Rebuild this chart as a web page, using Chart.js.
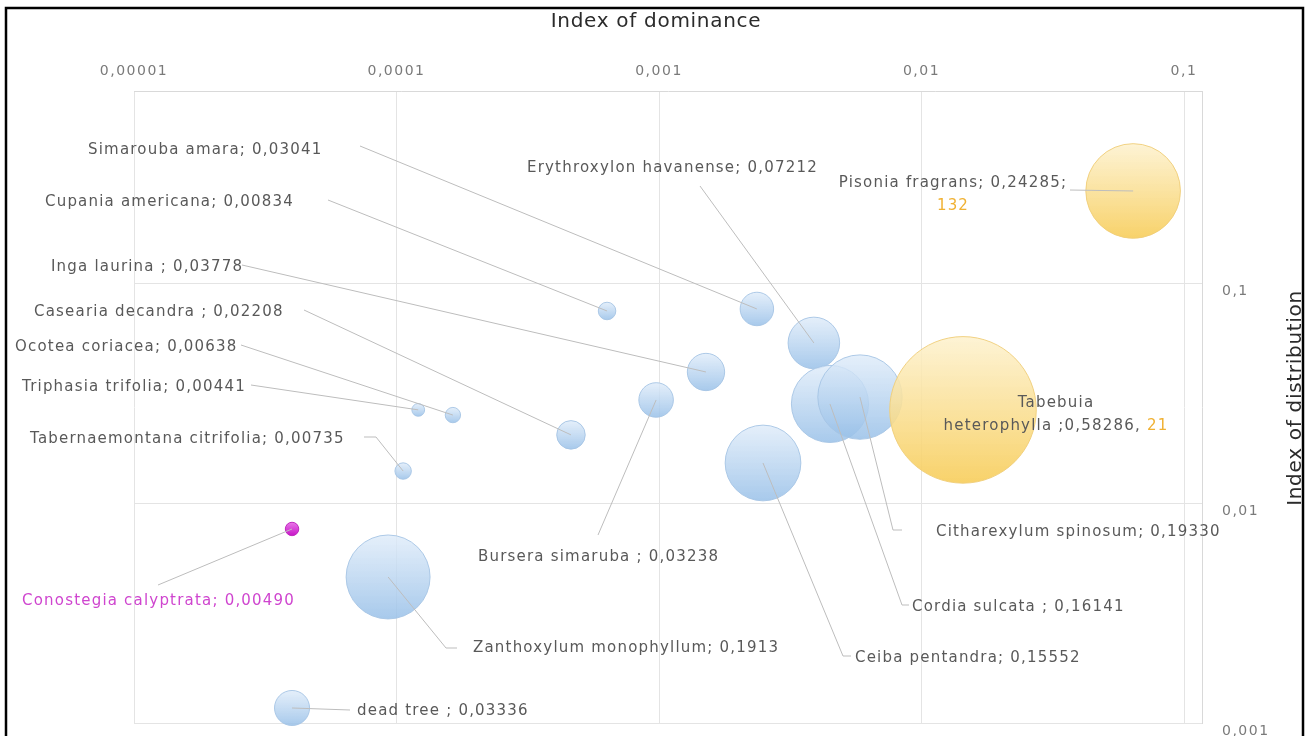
<!DOCTYPE html>
<html>
<head>
<meta charset="utf-8">
<title>Index of dominance / Index of distribution</title>
<script src="https://cdn.jsdelivr.net/npm/chart.js@4.4.1/dist/chart.umd.min.js"></script>
<style>
  html, body { margin: 0; padding: 0; background: #fff; }
  canvas { display: block; }
</style>
</head>
<body>
<canvas id="chart" width="1309" height="736"></canvas>
<script>
// species, index of dominance (x), index of distribution (y), importance value (bubble size)
const species = [
    'Simarouba amara', 'Cupania americana', 'Inga laurina', 'Casearia decandra',
    'Ocotea coriacea', 'Triphasia trifolia', 'Tabernaemontana citrifolia', 'Conostegia calyptrata',
    'Zanthoxylum monophyllum', 'dead tree', 'Bursera simaruba', 'Erythroxylon havanense',
    'Ceiba pentandra', 'Cordia sulcata', 'Citharexylum spinosum', 'Tabebuia heterophylla',
    'Pisonia fragrans'
];
const dominance = [
    0.00236, 0.000634, 0.00151, 0.000462,
    0.000164, 0.000121, 0.000106, 0.00004,
    0.0000929, 0.00004, 0.000975, 0.00389,
    0.00249, 0.00448, 0.00583, 0.01439,
    0.064
];
const distribution = [
    0.0762, 0.0746, 0.0394, 0.0204,
    0.0251, 0.0265, 0.01397, 0.00762,
    0.00461, 0.00117, 0.0294, 0.0534,
    0.0152, 0.0282, 0.0303, 0.0265,
    0.262
];
const importance = [
    '0,03041', '0,00834', '0,03778', '0,02208',
    '0,00638', '0,00441', '0,00735', '0,00490',
    '0,1913', '0,03336', '0,03238', '0,07212',
    '0,15552', '0,16141', '0,19330', '0,58286',
    '0,24285'
];
const counts = [
    null, null, null, null, null, null, null, null,
    null, null, null, null, null, null, null, '21',
    '132'
];
const dominantSpecies = ['Tabebuia heterophylla', 'Pisonia fragrans'];
const rareSpecies = ['Conostegia calyptrata'];

const xTickValues = [0.00001, 0.0001, 0.001, 0.01, 0.1];
const xTickLabels = ['0,00001', '0,0001', '0,001', '0,01', '0,1'];
const yTickValues = [0.001, 0.01, 0.1];
const yTickLabels = ['0,001', '0,01', '0,1'];

// where each data label sits and where its leader line starts (canvas px)
const labelLayout = [
    { x: 88, y: 150, sep: '; ', line: [[360, 146]] },
    { x: 45, y: 202, sep: '; ', line: [[328, 200]] },
    { x: 51, y: 267, sep: ' ; ', line: [[242, 265]] },
    { x: 34, y: 312, sep: ' ; ', line: [[304, 310]] },
    { x: 15, y: 347, sep: '; ', line: [[241, 345]] },
    { x: 22, y: 387, sep: '; ', line: [[251, 385]] },
    { x: 30, y: 439, sep: '; ', line: [[364, 437], [376, 437]] },
    { x: 22, y: 601, sep: '; ', line: [[158, 585]], color: '#cf45cf' },
    { x: 473, y: 648, sep: '; ', line: [[457, 648], [446, 648]] },
    { x: 357, y: 711, sep: ' ; ', line: [[350, 710]] },
    { x: 478, y: 557, sep: ' ; ', line: [[598, 535]] },
    { x: 527, y: 168, sep: '; ', line: [[700, 186]] },
    { x: 855, y: 658, sep: '; ', line: [[851, 656], [843, 656]] },
    { x: 912, y: 607, sep: ' ; ', line: [[909, 605], [902, 605]] },
    { x: 936, y: 532, sep: '; ', line: [[902, 530], [893, 530]] },
    { x: 1056, y: 403, sep: ' ;', tail: ', ', align: 'center', breakName: true },
    { x: 953, y: 183, sep: '; ', tail: ';', align: 'center', countBelow: true, line: [[1070, 190]] }
];

const BUBBLE_SCALE = 96;
const toNumber = s => Number(s.replace(',', '.'));

function seriesPoints(test) {
    return species
        .map((name, i) => ({ name, i }))
        .filter(({ name }) => test(name))
        .map(({ i }) => ({
            x: dominance[i],
            y: distribution[i],
            r: BUBBLE_SCALE * Math.sqrt(toNumber(importance[i]))
        }));
}

function gradientFill(top, bottom) {
    return (c) => {
        const { chart, raw } = c;
        if (!raw || !chart.scales.y) return bottom;
        const cy = chart.scales.y.getPixelForValue(raw.y);
        if (!isFinite(cy) || !isFinite(raw.r)) return bottom;
        const g = chart.ctx.createLinearGradient(0, cy - raw.r, 0, cy + raw.r);
        g.addColorStop(0, top);
        g.addColorStop(1, bottom);
        return g;
    };
}

// axes keep a fixed size so the plot area lands where it should
function fixBox(size) {
    return s => {
        if (s.isHorizontal()) s.height = size; else s.width = size;
        s.paddingTop = s.paddingBottom = s.paddingLeft = s.paddingRight = 0;
    };
}

// frame, axis titles
const decorations = {
    id: 'decorations',
    beforeDraw(chart) {
        const ctx = chart.ctx;
        ctx.save();
        ctx.strokeStyle = '#000';
        ctx.lineWidth = 2.5;
        ctx.strokeRect(6, 8, 1297, 760);
        ctx.fillStyle = '#2b2b2b';
        ctx.font = '20px "DejaVu Sans"';
        ctx.letterSpacing = '0.7px';
        ctx.textAlign = 'center';
        ctx.textBaseline = 'middle';
        ctx.fillText('Index of dominance', 656, 22);
        ctx.translate(1296, 398);
        ctx.rotate(-Math.PI / 2);
        ctx.fillText('Index of distribution', 0, 0);
        ctx.restore();
        // tick labels are drawn with the same spacing as the data labels
        ctx.letterSpacing = '1.5px';
    }
};

const leaderLabels = {
    id: 'leaderLabels',
    afterDatasetsDraw(chart) {
        const { ctx, scales: { x, y } } = chart;
        ctx.save();
        ctx.font = '15px "DejaVu Sans"';
        ctx.letterSpacing = '1.2px';
        ctx.textBaseline = 'middle';
        ctx.strokeStyle = '#bdbdbd';
        ctx.lineWidth = 1;

        labelLayout.forEach((lay, i) => {
            const px = x.getPixelForValue(dominance[i]);
            const py = y.getPixelForValue(distribution[i]);
            if (lay.line) {
                ctx.beginPath();
                ctx.moveTo(lay.line[0][0], lay.line[0][1]);
                lay.line.slice(1).forEach(p => ctx.lineTo(p[0], p[1]));
                ctx.lineTo(px, py);
                ctx.stroke();
            }

            const textColor = lay.color || '#595959';
            const countColor = '#f0b133';
            let lines;
            if (lay.breakName) {
                const words = species[i].split(' ');
                lines = [
                    [{ t: words[0], c: textColor }],
                    [{ t: words.slice(1).join(' ') + lay.sep + importance[i] + lay.tail, c: textColor },
                     { t: counts[i], c: countColor }]
                ];
            } else if (lay.countBelow) {
                lines = [
                    [{ t: species[i] + lay.sep + importance[i] + lay.tail, c: textColor }],
                    [{ t: counts[i], c: countColor }]
                ];
            } else {
                lines = [[{ t: species[i] + lay.sep + importance[i], c: textColor }]];
            }

            lines.forEach((segs, k) => {
                const ly = lay.y + k * 23;
                const w = segs.reduce((s, g) => s + ctx.measureText(g.t).width, 0);
                let lx = lay.align === 'center' ? lay.x - w / 2 : lay.x;
                ctx.textAlign = 'left';
                segs.forEach(g => {
                    ctx.fillStyle = g.c;
                    ctx.fillText(g.t, lx, ly);
                    lx += ctx.measureText(g.t).width;
                });
            });
        });
        ctx.restore();
    }
};

Chart.defaults.font.family = '"DejaVu Sans", sans-serif';

const chart = new Chart(document.getElementById('chart'), {
    type: 'bubble',
    data: {
        datasets: [
            {
                label: 'dominant',
                order: 0,
                data: seriesPoints(n => dominantSpecies.includes(n)),
                backgroundColor: gradientFill('rgba(253, 241, 205, 0.85)', 'rgba(247, 205, 90, 0.9)'),
                borderColor: 'rgba(240, 205, 120, 0.9)',
                borderWidth: 1
            },
            {
                label: 'rare',
                order: 1,
                data: seriesPoints(n => rareSpecies.includes(n)),
                backgroundColor: gradientFill('rgba(232, 120, 232, 1)', 'rgba(200, 20, 200, 1)'),
                borderColor: 'rgba(190, 40, 190, 1)',
                borderWidth: 1
            },
            {
                label: 'other',
                order: 2,
                data: seriesPoints(n => !dominantSpecies.includes(n) && !rareSpecies.includes(n)),
                backgroundColor: gradientFill('rgba(222, 235, 249, 0.8)', 'rgba(152, 192, 232, 0.85)'),
                borderColor: 'rgba(165, 196, 228, 0.9)',
                borderWidth: 1
            }
        ]
    },
    options: {
        responsive: false,
        animation: false,
        events: [],
        clip: false,
        layout: { autoPadding: false, padding: { left: 134, right: 0, top: 0, bottom: 13 } },
        plugins: {
            legend: { display: false },
            tooltip: { enabled: false }
        },
        scales: {
            x: {
                type: 'logarithmic',
                position: 'top',
                min: 0.00001,
                max: 0.1171,
                afterFit: fixBox(91),
                afterBuildTicks: s => { s.ticks = xTickValues.map(v => ({ value: v })); },
                grid: { color: '#e4e4e4', drawTicks: false },
                border: { color: '#d9d9d9' },
                ticks: {
                    autoSkip: false,
                    maxRotation: 0,
                    padding: 11,
                    color: '#7a7a7a',
                    font: { size: 14 },
                    callback: (v, i) => xTickLabels[i]
                }
            },
            y: {
                type: 'logarithmic',
                position: 'right',
                min: 0.001,
                max: 0.746,
                afterFit: fixBox(107),
                afterBuildTicks: s => { s.ticks = yTickValues.map(v => ({ value: v })); },
                grid: { color: '#e4e4e4', drawTicks: false },
                border: { color: '#d9d9d9' },
                ticks: {
                    autoSkip: false,
                    padding: 20,
                    labelOffset: 8,
                    color: '#7a7a7a',
                    font: { size: 14 },
                    callback: (v, i) => yTickLabels[i]
                }
            }
        }
    },
    plugins: [decorations, leaderLabels]
});
</script>
</body>
</html>
